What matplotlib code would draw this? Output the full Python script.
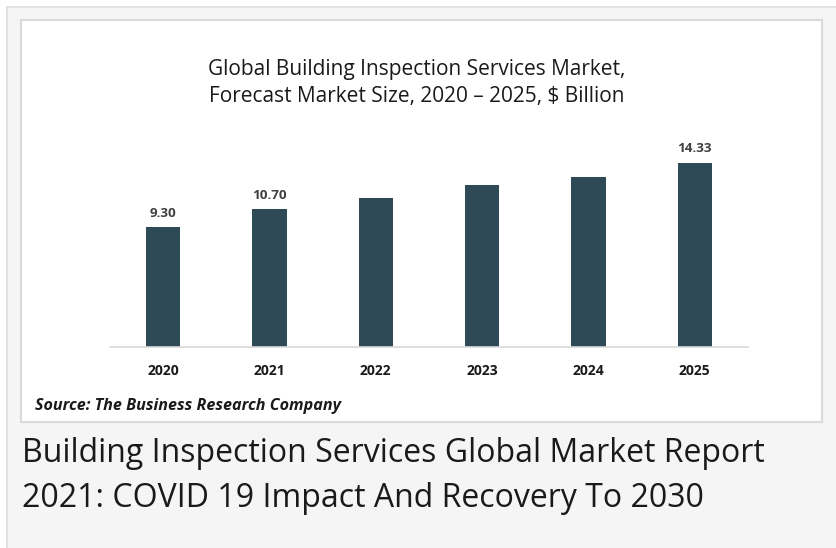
import matplotlib.pyplot as plt
from matplotlib.patches import Rectangle

years = ['2020', '2021', '2022', '2023', '2024', '2025']
values = [9.30, 10.70, 11.55, 12.56, 13.18, 14.33]
shown_labels = {'2020': '9.30', '2021': '10.70', '2025': '14.33'}

W, H = 836, 548
fig = plt.figure(figsize=(W / 100, H / 100), dpi=100)
fig.patch.set_facecolor('white')

def px(x, y, w, h):
    # pixel box (top-left origin) -> figure coords
    return (x / W, 1 - (y + h) / H, w / W, h / H)

# outer gray card and inner white chart panel
x0, y0, w0, h0 = px(7, 7, 840, 560)
fig.patches.append(Rectangle((x0, y0), w0, h0, transform=fig.transFigure,
                             facecolor='#f5f5f5', edgecolor='#e2e2e2', lw=1.5, zorder=-2))
x1, y1, w1, h1 = px(21, 20, 801, 402)
fig.patches.append(Rectangle((x1, y1), w1, h1, transform=fig.transFigure,
                             facecolor='white', edgecolor='#dadada', lw=1.5, zorder=-1))

ax = fig.add_axes(px(110, 141, 638, 206))
ax.set_zorder(2)
ax.set_facecolor('none')
ax.bar(range(len(years)), values, width=0.32, color='#2e4a57', zorder=2)
ax.set_xlim(-0.5, len(years) - 0.5)
ax.set_ylim(0, 16)

for i, (yr, v) in enumerate(zip(years, values)):
    if yr in shown_labels:
        ax.text(i, v + 0.6, shown_labels[yr], ha='center', va='bottom',
                fontsize=9.7, fontweight='bold', color='#404040', family='Open Sans')

for s in ['top', 'right', 'left']:
    ax.spines[s].set_visible(False)
ax.spines['bottom'].set_color('#d9d9d9')
ax.spines['bottom'].set_linewidth(1.2)
ax.set_yticks([])
ax.set_xticks(range(len(years)))
ax.set_xticklabels(years, fontsize=10, fontweight='bold', family='Open Sans', color='#1a1a1a')
ax.tick_params(axis='x', length=0, pad=12)

fig.text(417 / W, 1 - 83 / H,
         'Global Building Inspection Services Market,\nForecast Market Size, 2020 \u2013 2025, $ Billion',
         ha='center', va='center', fontsize=15, family='Open Sans', color='#1a1a1a',
         linespacing=1.4)

fig.text(35 / W, 1 - 406 / H, 'Source: The Business Research Company',
         ha='left', va='center', fontsize=11.6, fontweight='bold', fontstyle='italic',
         family='Open Sans', color='#1a1a1a')

fig.text(22 / W, 1 - 476 / H,
         'Building Inspection Services Global Market Report\n2021: COVID 19 Impact And Recovery To 2030',
         ha='left', va='center', fontsize=23, family='Open Sans', color='#1a1a1a',
         linespacing=1.45)

fig.savefig('out.png', dpi=100)
